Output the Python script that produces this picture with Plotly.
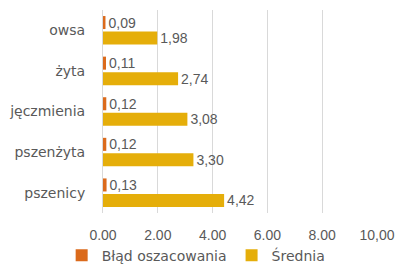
import plotly.graph_objects as go

categories = ["pszenicy", "pszenżyta", "jęczmienia", "żyta", "owsa"]
blad = [0.13, 0.12, 0.12, 0.11, 0.09]
srednia = [4.42, 3.30, 3.08, 2.74, 1.98]
tick_vals = [0, 2, 4, 6, 8, 10]
tick_labels = ["0,00", "2,00", "4,00", "6,00", "8,00", "10,00"]

TEXT_FONT = "DejaVu Sans"
NUM_FONT = "Liberation Sans"
GREY = "#595959"

def fmt(v):
    return f"{v:.2f}".replace(".", ",")

fig = go.Figure()
fig.add_trace(go.Bar(
    y=categories, x=srednia, orientation="h", name="Średnia",
    marker=dict(color="#E5AE0A", line=dict(width=0)),
    text=[fmt(v) for v in srednia],
    textposition="outside", cliponaxis=False, constraintext="none",
    textfont=dict(color=GREY, size=14, family=NUM_FONT),
    legendrank=2,
))
fig.add_trace(go.Bar(
    y=categories, x=blad, orientation="h", name="Błąd oszacowania",
    marker=dict(color="#DB6A1B", line=dict(width=0)),
    text=[fmt(v) for v in blad],
    textposition="outside", cliponaxis=False, constraintext="none",
    textfont=dict(color=GREY, size=14, family=NUM_FONT),
    legendrank=1,
))

fig.update_layout(
    width=396, height=264,
    margin=dict(l=103, r=19, t=10, b=51, autoexpand=False),
    paper_bgcolor="white", plot_bgcolor="white",
    barmode="group", bargap=0.236, bargroupgap=0.16,
    separators=", ",
    font=dict(family=TEXT_FONT, size=14, color=GREY),
    showlegend=True,
    legend=dict(orientation="h", x=0.34, xanchor="center", y=-0.21, yanchor="middle",
                font=dict(size=14, color=GREY, family=TEXT_FONT),
                itemwidth=30, tracegroupgap=0),
    xaxis=dict(range=[0, 10], tickvals=tick_vals, ticktext=tick_labels,
               showgrid=True, gridcolor="#D9D9D9", gridwidth=1,
               zeroline=False, showline=False, ticks="", automargin=False,
               ticklabelstandoff=12,
               tickfont=dict(size=14, color=GREY, family=NUM_FONT)),
    yaxis=dict(type="category", categoryorder="array", categoryarray=categories,
               showgrid=False, zeroline=False, showline=True, linecolor="#D9D9D9",
               ticks="", automargin=False, ticklabelstandoff=14,
               tickfont=dict(size=14, color=GREY, family=TEXT_FONT)),
)

fig.write_html("out.html", config={"displayModeBar": False},
               post_script="document.body.style.margin='0px';document.body.style.overflow='hidden';")
